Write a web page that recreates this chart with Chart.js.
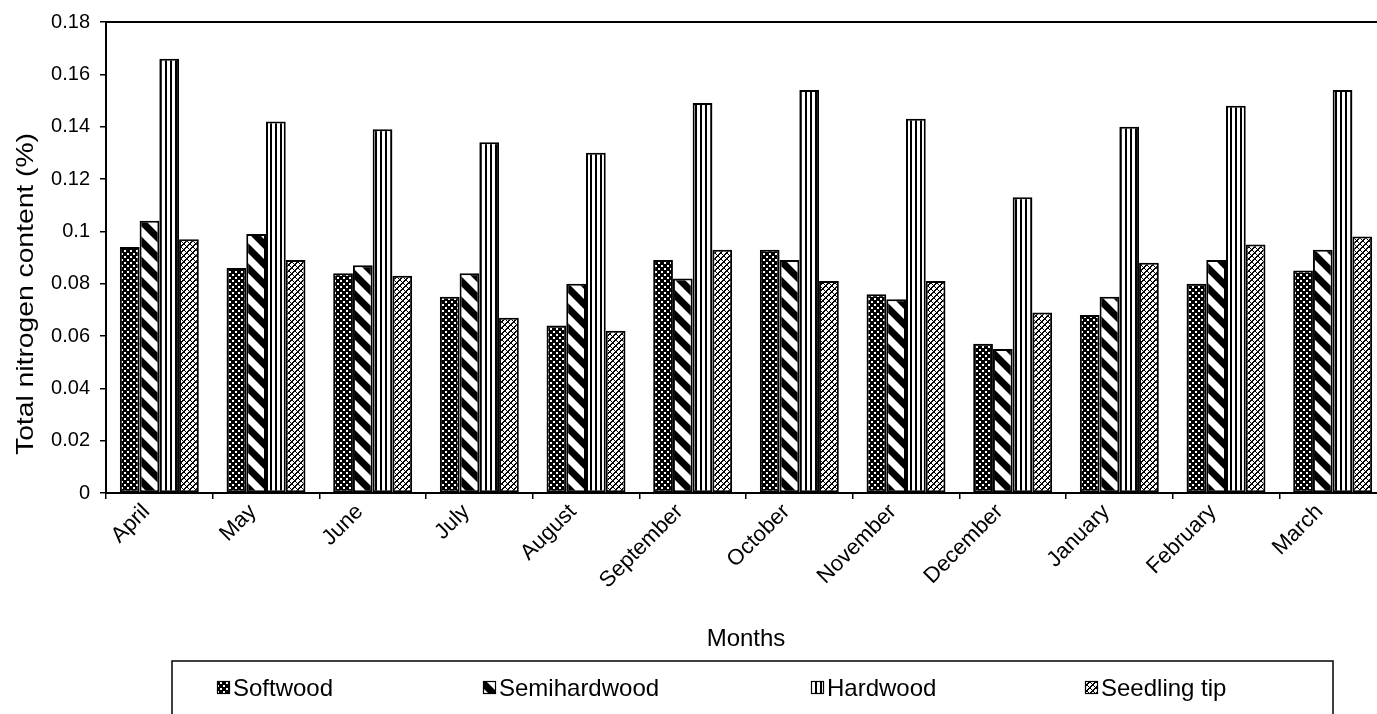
<!DOCTYPE html>
<html>
<head>
<meta charset="utf-8">
<script src="https://cdn.jsdelivr.net/npm/chart.js@4.4.1/dist/chart.umd.min.js"></script>
<style>
  html, body { margin: 0; padding: 0; background: #fff; overflow: hidden; }
  #wrap { width: 1377px; height: 714px; overflow: hidden; }
  canvas { display: block; }
</style>
</head>
<body>
<div id="wrap"><canvas id="chart" width="1400" height="714"></canvas></div>
<script>
// Monthly total nitrogen content (%) by cutting type
const months = ['April', 'May', 'June', 'July', 'August', 'September', 'October',
                'November', 'December', 'January', 'February', 'March'];
const softwood     = [0.094, 0.086, 0.084, 0.075, 0.064, 0.089, 0.093, 0.076, 0.057, 0.068, 0.080, 0.085];
const semihardwood = [0.104, 0.099, 0.087, 0.084, 0.080, 0.082, 0.089, 0.074, 0.055, 0.075, 0.089, 0.093];
const hardwood     = [0.166, 0.142, 0.139, 0.134, 0.130, 0.149, 0.154, 0.143, 0.113, 0.140, 0.148, 0.154];
const seedlingTip  = [0.097, 0.089, 0.083, 0.067, 0.062, 0.093, 0.081, 0.081, 0.069, 0.088, 0.095, 0.098];
const seriesNames  = ['Softwood', 'Semihardwood', 'Hardwood', 'Seedling tip'];
const yTickValues  = [0, 0.02, 0.04, 0.06, 0.08, 0.1, 0.12, 0.14, 0.16, 0.18];
const yAxisTitle   = 'Total nitrogen content (%)';
const xAxisTitle   = 'Months';

const FONT = '"Liberation Sans", Arial, Helvetica, sans-serif';

// ---- fill patterns -------------------------------------------------------
function tile(w, h, draw) {
  const c = document.createElement('canvas');
  c.width = w; c.height = h;
  const g = c.getContext('2d');
  draw(g, w, h);
  return document.createElement('canvas').getContext('2d').createPattern(c, 'repeat');
}

// black with white staggered dots
const dotsPattern = tile(6, 6, (g) => {
  g.fillStyle = '#000'; g.fillRect(0, 0, 6, 6);
  g.fillStyle = '#fff';
  g.fillRect(1, 1, 2, 2);
  g.fillRect(4, 4, 2, 2);
});

// white with heavy "\" stripes
const stripePattern = tile(20, 20, (g) => {
  g.fillStyle = '#fff'; g.fillRect(0, 0, 20, 20);
  g.strokeStyle = '#000'; g.lineWidth = 7;
  g.beginPath();
  g.moveTo(-20, -20); g.lineTo(40, 40);
  g.moveTo(-20, 0); g.lineTo(20, 40);
  g.moveTo(0, -20); g.lineTo(40, 20);
  g.stroke();
});

// white with vertical rules
const verticalPattern = tile(5, 4, (g) => {
  g.fillStyle = '#fff'; g.fillRect(0, 0, 5, 4);
  g.fillStyle = '#000'; g.fillRect(0, 0, 2, 4);
});

// fine diamond crosshatch
const hatchPattern = tile(6, 6, (g) => {
  g.fillStyle = '#fff'; g.fillRect(0, 0, 6, 6);
  g.fillStyle = '#000';
  for (let x = 0; x < 6; x++) for (let y = 0; y < 6; y++) {
    const a = (x + y) % 6, b = (x - y + 6) % 6;
    if (a === 0 || b === 0 || (a === 1 && b % 2 === 1)) g.fillRect(x, y, 1, 1);
  }
});

const fills = [dotsPattern, stripePattern, verticalPattern, hatchPattern];
const values = [softwood, semihardwood, hardwood, seedlingTip];

// ---- plot frame, vertical axis title and boxed legend -------------------
const framePlugin = {
  id: 'frame',
  afterDatasetsDraw(chart) {
    const { ctx, chartArea: a } = chart;
    ctx.save();
    ctx.strokeStyle = '#000';
    ctx.lineWidth = 2;
    ctx.strokeRect(a.left, a.top, a.right - a.left, a.bottom - a.top);
    ctx.restore();
  }
};

const yTitlePlugin = {
  id: 'yTitle',
  afterDraw(chart) {
    const { ctx } = chart;
    ctx.save();
    ctx.translate(26, 294);
    ctx.rotate(-Math.PI / 2);
    ctx.font = '24px ' + FONT;
    const w = ctx.measureText(yAxisTitle).width;
    ctx.scale(322 / w, 1);
    ctx.fillStyle = '#000';
    ctx.textAlign = 'center';
    ctx.textBaseline = 'middle';
    ctx.fillText(yAxisTitle, 0, 0);
    ctx.restore();
  }
};

const boxedLegend = {
  id: 'boxedLegend',
  afterDraw(chart) {
    const { ctx } = chart;
    const box = { left: 172, top: 661, right: 1333, bottom: 730 };
    const itemX = [217, 483, 811, 1085];
    const cy = 688;
    ctx.save();
    ctx.strokeStyle = '#000';
    ctx.lineWidth = 1.5;
    ctx.strokeRect(box.left, box.top, box.right - box.left, box.bottom - box.top);
    ctx.font = '24px ' + FONT;
    ctx.textBaseline = 'middle';
    chart.data.datasets.forEach((ds, i) => {
      const x = itemX[i];
      ctx.fillStyle = ds.backgroundColor;
      ctx.fillRect(x, cy - 7, 13, 13);
      ctx.strokeStyle = '#000';
      ctx.lineWidth = 1.2;
      ctx.strokeRect(x + 0.5, cy - 6.5, 12, 12);
      ctx.fillStyle = '#000';
      ctx.fillText(ds.label, x + 16, cy + 1);
    });
    ctx.restore();
  }
};

new Chart(document.getElementById('chart'), {
  type: 'bar',
  data: {
    labels: months,
    datasets: seriesNames.map((name, i) => ({
      label: name,
      data: values[i],
      backgroundColor: fills[i],
      borderColor: '#000',
      borderWidth: 2,
      borderSkipped: false,
      categoryPercentage: 0.74,
      barPercentage: 1.0
    }))
  },
  options: {
    responsive: false,
    animation: false,
    devicePixelRatio: 1,
    layout: { padding: { left: 8, top: 20, right: 14, bottom: 56 } },
    plugins: {
      legend: { display: false },
      tooltip: { enabled: false },
      title: { display: false }
    },
    scales: {
      x: {
        grid: { display: true, drawOnChartArea: false, drawTicks: true, tickLength: 6, color: '#000', lineWidth: 1.5, offset: true },
        border: { display: true, color: '#000', width: 2 },
        ticks: {
          color: '#000',
          font: { family: FONT, size: 22 },
          minRotation: 45, maxRotation: 45,
          padding: 0,
          labelOffset: -13,
          autoSkip: false
        },
        title: {
          display: true, text: xAxisTitle, color: '#000',
          font: { family: FONT, size: 24 },
          padding: { top: 4, bottom: 4 }
        },
        afterFit(scale) { scale.height = 165; }
      },
      y: {
        min: 0, max: 0.18,
        afterBuildTicks(scale) { scale.ticks = yTickValues.map(v => ({ value: v })); },
        grid: { display: true, drawOnChartArea: false, drawTicks: true, tickLength: 6, color: '#000', lineWidth: 1.5 },
        border: { display: true, color: '#000', width: 2 },
        ticks: {
          color: '#000',
          font: { family: FONT, size: 20 },
          padding: 10,
          callback: (v) => String(Number(Number(v).toFixed(2)))
        },
        title: { display: false },
        afterFit(scale) { scale.width = 98; }
      }
    }
  },
  plugins: [framePlugin, yTitlePlugin, boxedLegend]
});
</script>
</body>
</html>
